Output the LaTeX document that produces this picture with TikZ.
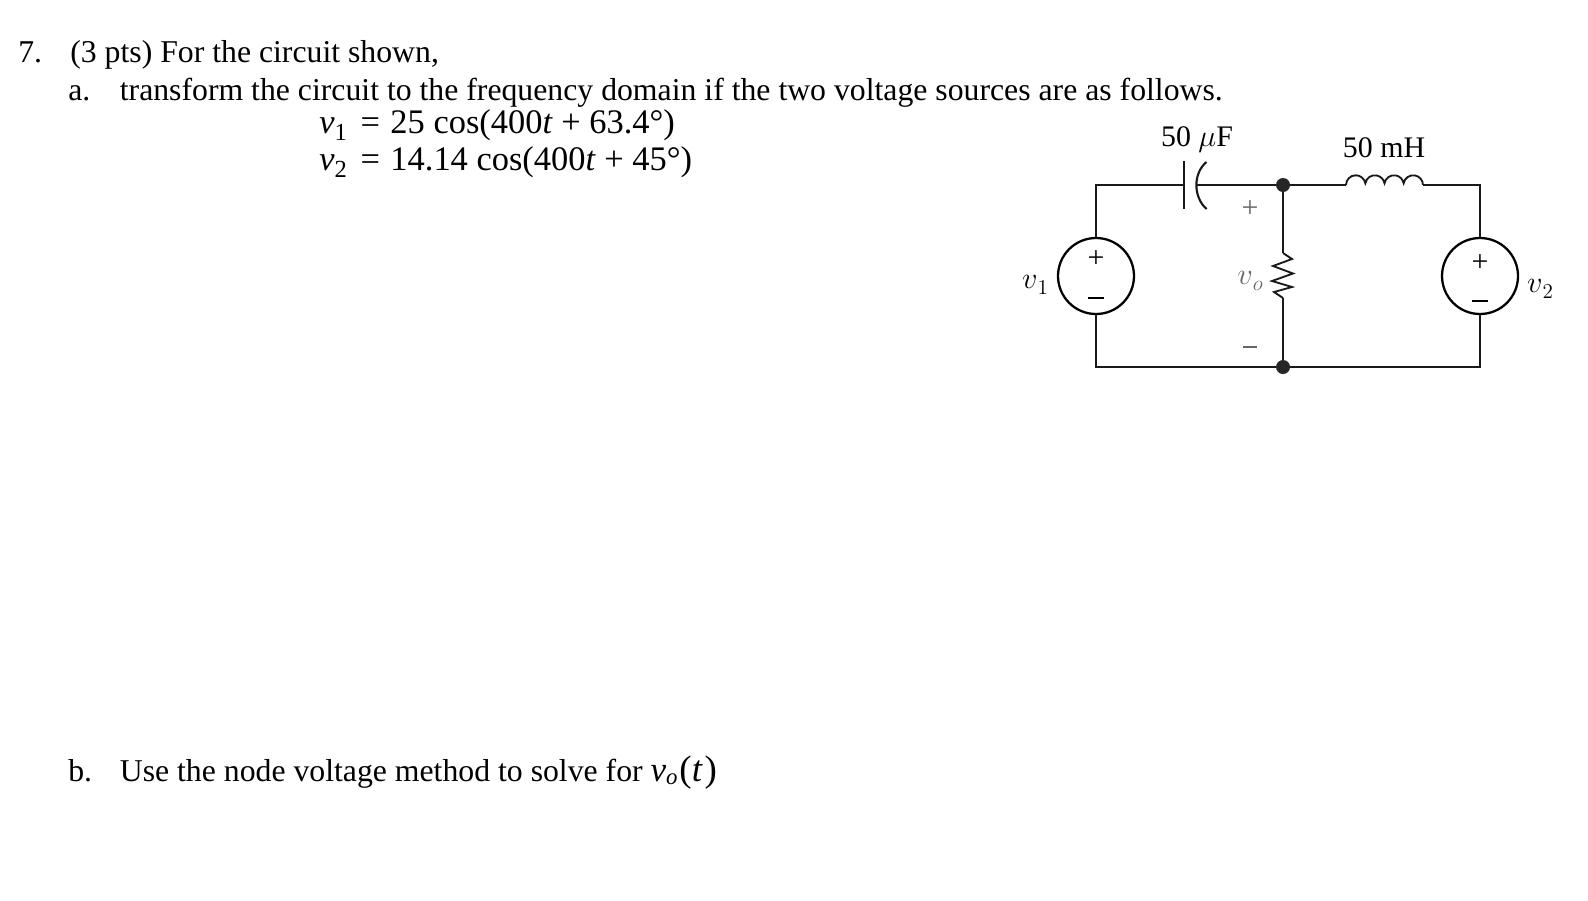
\documentclass[tikz,border=0pt]{standalone}
\usepackage{fontspec}
\setmainfont{Liberation Serif}
\begin{document}
\begin{tikzpicture}[x=0.02cm,y=-0.02cm,
  wire/.style={line width=1.05pt,black!90},
  srcc/.style={circle,draw=black,line width=1.3pt,minimum size=76*0.02cm,inner sep=0pt,fill=white},
  dotn/.style={circle,fill=black!85,minimum size=14*0.02cm,inner sep=0pt},
  txt/.style={anchor=base west,inner sep=0pt,font=\fontsize{18.07}{23}\selectfont,text=black},
  eqn/.style={anchor=base west,inner sep=0pt,font=\fontsize{19.6}{23}\selectfont,text=black},
  lbl/.style={anchor=base,inner sep=0pt,font=\fontsize{17}{20}\selectfont,text=black},
  gry/.style={anchor=center,inner sep=0pt,font=\fontsize{17}{20}\selectfont,text=black!60}]
\useasboundingbox (0,0) rectangle (1588,900);
\node[txt] (q7) at (18,62) {7.};
\node[txt] (q7t) at (70,62) {(3 pts) For the circuit shown,};
\node[txt] (a) at (68,100) {a.};
\node[txt] (at) at (119.5,100) {transform the circuit to the frequency domain if the two voltage sources are as follows.};
\node[eqn] (e1) at (319,133) {\textit{v}\raisebox{-0.22em}{\fontsize{14}{14}\selectfont 1}\hspace{0.4em}=\hspace{0.3em}25 cos(400\textit{t} + 63.4°)};
\node[eqn] (e2) at (319,170) {\textit{v}\raisebox{-0.22em}{\fontsize{14}{14}\selectfont 2}\hspace{0.4em}=\hspace{0.3em}14.14 cos(400\textit{t} + 45°)};
\node[txt] (b) at (68,781) {b.};
\node[txt] (bt) at (119.5,781) {Use the node voltage method to solve for {\fontsize{20}{20}\selectfont\textit{v}}\raisebox{-0.12em}{\fontsize{13}{13}\selectfont\textit{o}}{\fontsize{21}{21}\selectfont\hspace{0.05em}(\textit{t}\hspace{0.05em})}};
% circuit
\coordinate (tl) at (1096,185); \coordinate (tr) at (1480,185);
\coordinate (bl) at (1096,367); \coordinate (br) at (1480,367);
\coordinate (capa) at (1184,185); \coordinate (capb) at (1196,185);
\coordinate (la) at (1346,185); \coordinate (lb) at (1423,185);
\coordinate (ra) at (1283,253); \coordinate (rb) at (1283,298);
\node[dotn] (nt) at (1283,185) {};
\node[dotn] (nb) at (1283,367) {};
\node[srcc] (s1) at (1096,276) {};
\node[srcc] (s2) at (1480,276) {};
\draw[wire] (s1) -- (tl) -- (capa);
\draw[wire] (capb) -- (nt) -- (la);
\draw[wire] (lb) -- (tr) -- (s2);
\draw[wire] (s2) -- (br) -- (nb) -- (bl) -- (s1);
\draw[wire] (nt) -- (ra);
\draw[wire] (rb) -- (nb);
\draw[wire,line join=miter] (ra) -- (1292,259) -- (1273,266) -- (1293,273.5) -- (1272,281) -- (1292,287) -- (1274,292) -- (rb);
\draw[wire,line width=1.2pt] (1184,161) -- (1184,209);
\draw[wire,line width=1.2pt] (1206.5,162) .. controls (1193,173) and (1193,197) .. (1206.5,209);
\draw[wire] (la) arc[start angle=180,end angle=10,x radius=9.73,y radius=-9.73]
  arc[start angle=170,end angle=10,x radius=9.73,y radius=-9.73]
  arc[start angle=170,end angle=10,x radius=9.73,y radius=-9.73]
  arc[start angle=170,end angle=0,x radius=9.73,y radius=-9.73];
\node[lbl] (c) at (1197,146) {50 $\mu$F};
\node[lbl] (l) at (1384,157) {50 mH};
\node[lbl,font=\fontsize{18}{22}\selectfont] (v1) at (1035,288) {$v$\raisebox{-0.2em}{$\scriptstyle 1$}};
\node[lbl,font=\fontsize{18}{22}\selectfont] (v2) at (1540,292) {$v$\raisebox{-0.2em}{$\scriptstyle 2$}};
\node[gry,font=\fontsize{18}{22}\selectfont] (vo) at (1250,281) {$v$\raisebox{-0.2em}{$\scriptstyle o$}};
\node[gry] (gp) at (1250,209) {+};
\node[gry] (gm) at (1250,347) {\rule{8.5pt}{0.6pt}};
\node[lbl,anchor=center] (p1) at (1096,259) {+};
\node[lbl,anchor=center] (m1) at (1096,298) {\rule{9.5pt}{1pt}};
\node[lbl,anchor=center] (p2) at (1480,263) {+};
\node[lbl,anchor=center] (m2) at (1480,301) {\rule{9.5pt}{1pt}};
\end{tikzpicture}
\end{document}
